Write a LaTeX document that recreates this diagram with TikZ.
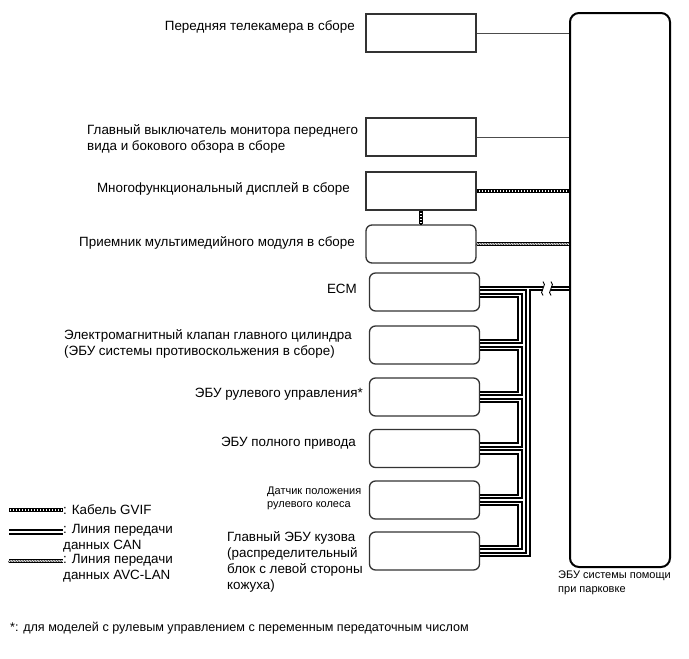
\documentclass[tikz,border=0pt]{standalone}
\usepackage{fontspec}
\setmainfont{Liberation Sans}
\usetikzlibrary{decorations.markings}

\begin{document}
\begin{tikzpicture}[x=1pt,y=-1pt,
unit/.style={draw=black!80,line width=1.3pt,minimum width=110pt,minimum height=38pt,inner sep=0pt},
runit/.style={unit,rounded corners=6pt},
pecubox/.style={draw=black,line width=2pt,rounded corners=9pt,minimum width=100pt,minimum height=554pt,inner sep=0pt},
lbl/.style={font=\fontsize{13.4}{16}\selectfont,inner sep=0pt,align=left},
small/.style={font=\fontsize{11}{13}\selectfont,inner sep=0pt,align=left},
wire/.style={draw=black!70,line width=0.9pt},
can/.style={draw=black,line width=2pt,double=white,double distance=1.6pt},
gvif/.style={draw=black,line width=0.5pt,double=white,double distance=2.8pt,postaction={draw,line width=2.8pt,dash pattern=on 0.5pt off 1pt}},
avc/.style={draw=black,line width=0.5pt,double=white,double distance=2.8pt,postaction={decorate,decoration={markings,mark=between positions 0 and 1 step 1.6pt with {\draw[line width=0.4pt] (-0.8pt,-1.4pt)--(0.8pt,1.4pt);}}}}]
\useasboundingbox (0,0) rectangle (689,659);
% units
\node[unit] (tcam) at (421,33) {};
\node[unit] (msw) at (421,137) {};
\node[unit] (mfd) at (421,191) {};
\node[runit] (radio) at (421,244) {};
\node[runit] (ecm) at (424.5,292) {};
\node[runit] (brk) at (424.5,345) {};
\node[runit] (eps) at (424.5,397) {};
\node[runit] (awd) at (424.5,448.5) {};
\node[runit] (sas) at (424.5,500) {};
\node[runit] (body) at (424.5,551) {};
\node[pecubox] (pecu) at (620,290) {};
% labels
\node[lbl,anchor=east] (tcaml) at (355,27) {Передняя телекамера в сборе};
\node[lbl,anchor=west] (mswl) at (87,139) {Главный выключатель монитора переднего\\вида и бокового обзора в сборе};
\node[lbl,anchor=east] (mfdl) at (350,189) {Многофункциональный дисплей в сборе};
\node[lbl,anchor=east] (radiol) at (355,243) {Приемник мультимедийного модуля в сборе};
\node[lbl,anchor=east] (ecml) at (357,289) {ECM};
\node[lbl,anchor=west] (brkl1) at (64,344) {Электромагнитный клапан главного цилиндра\\(ЭБУ системы противоскольжения в сборе)};
\node[lbl,anchor=east] (epsl) at (363,394) {ЭБУ рулевого управления*};
\node[lbl,anchor=east] (awdl) at (356,443) {ЭБУ полного привода};
\node[small,anchor=west] (sasl) at (267,498) {Датчик положения\\рулевого колеса};
\node[lbl,anchor=west] (bodyl) at (227,562) {Главный ЭБУ кузова\\(распределительный\\блок с левой стороны\\кожуха)};
\node[font=\fontsize{11}{14}\selectfont,inner sep=0pt,align=left,anchor=west] (pecul) at (558,583) {ЭБУ системы помощи\\при парковке};
\node[font=\fontsize{12.6}{15}\selectfont,inner sep=0pt,anchor=west] (note) at (10,628) {*: для моделей с рулевым управлением с переменным передаточным числом};
% plain wires
\draw[wire] (tcam.east) -- (tcam.east -| pecu.west);
\draw[wire] (msw.east) -- (msw.east -| pecu.west);
% GVIF and AVC-LAN
\draw[gvif] (mfd.east) -- (mfd.east -| pecu.west);
\draw[gvif] (mfd.south) -- (radio.north);
\draw[avc] (radio.east) -- (radio.east -| pecu.west);
% CAN bus
\foreach \n in {ecm,brk,eps,awd,sas,body}{
  \coordinate (\n-a) at ([yshift=3.5pt]\n.east);
  \coordinate (\n-b) at ([yshift=-3.5pt]\n.east);
}
\coordinate (busin) at (520,0);
\coordinate (busout) at (528,0);
\coordinate (cutl) at (543,288.5);
\coordinate (cutr) at (551,288.5);
\draw[can] (ecm-a) -- (cutl) (cutr) -- (cutr -| pecu.west)
  (ecm-b) -| (busin |- brk-a) -- (brk-a)
  (brk-b) -| (busin |- eps-a) -- (eps-a)
  (eps-b) -| (busin |- awd-a) -- (awd-a)
  (awd-b) -| (busin |- sas-a) -- (sas-a)
  (sas-b) -| (busin |- body-a) -- (body-a)
  (body-b) -| (busout |- ecm-a);
\draw[line width=0.9pt] ([shift={(0,-7)}]cutl) .. controls +(5,3) and +(-5,-3) .. ([shift={(0,7)}]cutl);
\draw[line width=0.9pt] ([shift={(0,-7)}]cutr) .. controls +(5,3) and +(-5,-3) .. ([shift={(0,7)}]cutr);
% legend
\coordinate (lg1a) at (9,510); \coordinate (lg1b) at (63,510);
\coordinate (lg2a) at (9,532); \coordinate (lg2b) at (63,532);
\coordinate (lg3a) at (9,561); \coordinate (lg3b) at (63,561);
\draw[gvif] (lg1a) -- (lg1b);
\draw[can] (lg2a) -- (lg2b);
\draw[avc] (lg3a) -- (lg3b);
\node[lbl,anchor=west] (lg1) at (63,510) {: Кабель GVIF};
\node[lbl,anchor=west] (lg2) at (63,538.5) {: Линия передачи\\данных CAN};
\node[lbl,anchor=west] (lg3) at (63,568.5) {: Линия передачи\\данных AVC-LAN};
\end{tikzpicture}
\end{document}
